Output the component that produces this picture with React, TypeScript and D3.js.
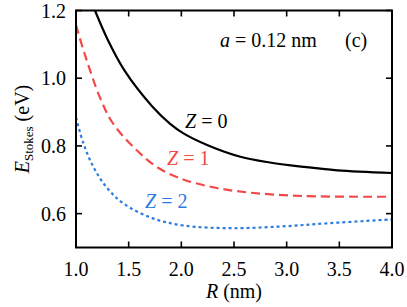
import React from "react";
import * as d3 from "d3";

const xTicks = [1.0, 1.5, 2.0, 2.5, 3.0, 3.5, 4.0];
const yTicks = [0.6, 0.8, 1.0, 1.2];

const rZ0 = [1.18, 1.307, 1.466, 1.72, 1.894, 2.02, 2.25, 2.56, 2.84, 3.16, 3.48, 4.0];
const eZ0 = [1.2, 1.11, 1.02, 0.918, 0.865, 0.837, 0.802, 0.768, 0.751, 0.738, 0.728, 0.72];
const rZ1 = [1.0, 1.086, 1.23, 1.35, 1.577, 1.767, 2.0, 2.3, 2.62, 3.16, 4.0];
const eZ1 = [1.157, 1.068, 0.941, 0.867, 0.787, 0.738, 0.703, 0.678, 0.663, 0.652, 0.65];
const rZ2 = [1.0, 1.07, 1.165, 1.29, 1.45, 1.73, 2.02, 2.46, 2.94, 3.41, 4.0];
const eZ2 = [0.884, 0.808, 0.738, 0.678, 0.63, 0.586, 0.565, 0.557, 0.562, 0.572, 0.583];

const series = [
  { label: "0", r: rZ0, e: eZ0, color: "#000000", dash: "none", lx: 185, ly: 128 },
  { label: "1", r: rZ1, e: eZ1, color: "#f34848", dash: "9,5", lx: 167, ly: 165 },
  { label: "2", r: rZ2, e: eZ2, color: "#2b7ce0", dash: "3,3", lx: 145, ly: 208 },
];

export default function App() {
  const W = 407, H = 307;
  const L = 76, R = 392, T = 10.5, B = 247.5;
  const x = d3.scaleLinear().domain([1.0, 4.0]).range([L, R]);
  const y = d3.scaleLinear().domain([0.5, 1.2]).range([B, T]);
  const line = d3
    .line<[number, number]>()
    .x((d) => x(d[0]))
    .y((d) => y(d[1]))
    .curve(d3.curveCatmullRom.alpha(0.5));
  const font = "Liberation Serif, Times New Roman, Times, serif";
  const tl = 6;
  return (
    <svg
      width={W}
      height={H}
      style={{ position: "absolute", left: 0, top: 0, fontFamily: font }}
    >
      <defs>
        <clipPath id="plot">
          <rect x={L} y={T} width={R - L} height={B - T} />
        </clipPath>
      </defs>
      <g clipPath="url(#plot)">
        {series.map((s) => (
          <path
            key={s.label}
            d={line(s.r.map((v, i) => [v, s.e[i]] as [number, number])) || ""}
            fill="none"
            stroke={s.color}
            strokeWidth={2.2}
            strokeDasharray={s.dash}
          />
        ))}
      </g>
      {xTicks.map((t) => (
        <g key={"x" + t}>
          <line x1={x(t)} x2={x(t)} y1={B} y2={B - tl} stroke="#000" strokeWidth={1.6} />
          <line x1={x(t)} x2={x(t)} y1={T} y2={T + tl} stroke="#000" strokeWidth={1.6} />
          <text x={x(t)} y={276} fontSize={20} textAnchor="middle" fill="#000">
            {t.toFixed(1)}
          </text>
        </g>
      ))}
      {yTicks.map((t) => (
        <g key={"y" + t}>
          <line x1={L} x2={L + tl} y1={y(t)} y2={y(t)} stroke="#000" strokeWidth={1.6} />
          <line x1={R} x2={R - tl} y1={y(t)} y2={y(t)} stroke="#000" strokeWidth={1.6} />
          <text x={66} y={y(t) + 7} fontSize={20} textAnchor="end" fill="#000">
            {t.toFixed(1)}
          </text>
        </g>
      ))}
      <rect x={L} y={T} width={R - L} height={B - T} fill="none" stroke="#000" strokeWidth={2} />
      {series.map((s) => (
        <text key={"l" + s.label} x={s.lx} y={s.ly} fontSize={20} fill={s.color}>
          <tspan fontStyle="italic">Z</tspan>
          <tspan> = {s.label}</tspan>
        </text>
      ))}
      <text x={220} y={47} fontSize={20} fill="#000">
        <tspan fontStyle="italic">a</tspan>
        <tspan> = 0.12 nm</tspan>
      </text>
      <text x={345} y={47} fontSize={20} fill="#000">
        (c)
      </text>
      <text x={234} y={298} fontSize={20} textAnchor="middle" fill="#000">
        <tspan fontStyle="italic">R</tspan>
        <tspan> (nm)</tspan>
      </text>
      <text
        transform={`translate(29,129) rotate(-90)`}
        fontSize={20}
        textAnchor="middle"
        fill="#000"
      >
        <tspan fontStyle="italic">E</tspan>
        <tspan fontSize={13} dy={4}>Stokes</tspan>
        <tspan dy={-4}> (eV)</tspan>
      </text>
    </svg>
  );
}
